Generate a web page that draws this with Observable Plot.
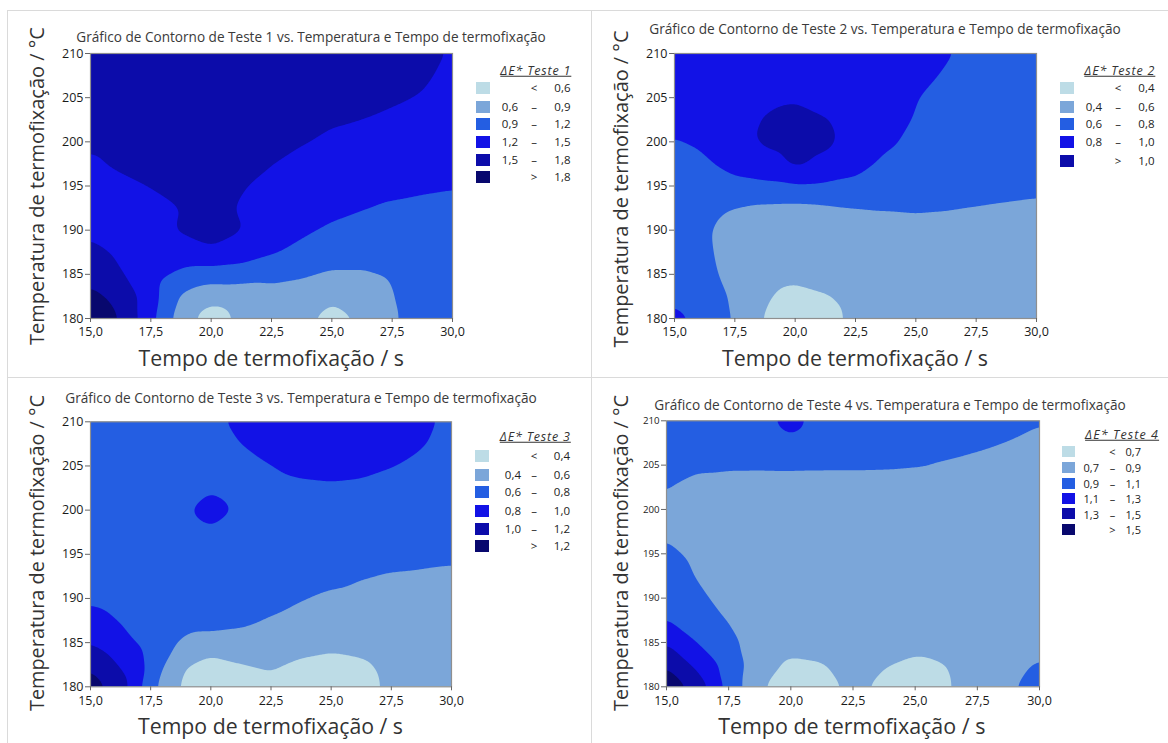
<!DOCTYPE html>
<html><head><meta charset="utf-8">
<script src="https://cdn.jsdelivr.net/npm/d3@7"></script>
<script src="https://cdn.jsdelivr.net/npm/@observablehq/plot@0.6"></script>
<style>
body{margin:0;background:#fff;}
#root{position:relative;width:1168px;height:743px;overflow:hidden;background:#fff;font-family:"Open Sans",sans-serif;}
.abs{position:absolute;white-space:nowrap;line-height:1;}
.sep{position:absolute;background:#dadada;}
.plotbox{position:absolute;}
</style></head><body><div id="root"></div>
<script>
// ---- data ----
const xs = [15,16.25,17.5,18.75,20,21.25,22.5,23.75,25,26.25,27.5,28.75,30];
const ys = [210,207.5,205,202.5,200,197.5,195,192.5,190,187.5,185,182.5,180];
const xTicks = [15,17.5,20,22.5,25,27.5,30];
const yTicks = [180,185,190,195,200,205,210];
const palette = ["#bddce6","#7ba6d9","#245ee2","#1212e6","#0c0caa","#08086e"];

const thr1 = [0.6,0.9,1.2,1.5,1.8];
const thr2 = [0.4,0.6,0.8,1.0];
const thr3 = [0.4,0.6,0.8,1.0,1.2];
const thr4 = [0.7,0.9,1.1,1.3,1.5];

const teste1 = [
 [1.65,1.66,1.67,1.67,1.67,1.66,1.65,1.64,1.62,1.6,1.58,1.56,1.48],
 [1.66,1.67,1.68,1.68,1.68,1.67,1.65,1.63,1.6,1.58,1.56,1.53,1.45],
 [1.62,1.65,1.67,1.68,1.68,1.66,1.63,1.6,1.57,1.55,1.53,1.49,1.42],
 [1.58,1.62,1.65,1.67,1.67,1.64,1.6,1.56,1.53,1.505,1.46,1.42,1.38],
 [1.54,1.58,1.62,1.65,1.66,1.62,1.57,1.52,1.45,1.4,1.36,1.33,1.3],
 [1.46,1.55,1.6,1.63,1.65,1.6,1.51,1.42,1.37,1.33,1.3,1.28,1.26],
 [1.38,1.43,1.51,1.58,1.62,1.52,1.42,1.36,1.32,1.28,1.26,1.24,1.22],
 [1.36,1.38,1.42,1.5,1.6,1.47,1.38,1.32,1.28,1.22,1.17,1.14,1.12],
 [1.42,1.38,1.4,1.52,1.58,1.51,1.36,1.25,1.15,1.08,1.04,1.02,1.0],
 [1.6,1.45,1.38,1.4,1.47,1.39,1.23,1.12,1.05,1.0,0.97,0.96,0.95],
 [1.72,1.52,1.32,1.12,1.05,1.02,0.98,0.93,0.86,0.87,0.93,0.95,0.96],
 [1.86,1.74,1.33,0.87,0.7,0.74,0.8,0.78,0.66,0.72,0.9,0.97,1.0],
 [1.98,1.8,1.28,0.74,0.45,0.66,0.74,0.68,0.48,0.64,0.88,0.98,1.0]
];
const teste2 = [
 [0.88,0.9,0.92,0.93,0.94,0.93,0.91,0.88,0.85,0.81,0.77,0.74,0.72],
 [0.88,0.9,0.93,0.95,0.96,0.95,0.92,0.88,0.83,0.79,0.75,0.73,0.71],
 [0.87,0.9,0.93,0.96,0.98,0.93,0.92,0.86,0.805,0.76,0.73,0.71,0.7],
 [0.85,0.88,0.92,1.01,1.06,1.01,0.93,0.86,0.79,0.75,0.72,0.7,0.69],
 [0.79,0.83,0.89,1.04,1.08,1.04,0.92,0.83,0.76,0.72,0.7,0.69,0.68],
 [0.72,0.78,0.86,0.9,1.04,0.95,0.87,0.76,0.72,0.7,0.68,0.67,0.66],
 [0.7,0.72,0.75,0.77,0.78,0.77,0.75,0.71,0.69,0.67,0.66,0.64,0.63],
 [0.68,0.65,0.595,0.56,0.55,0.57,0.595,0.61,0.62,0.61,0.595,0.585,0.575],
 [0.68,0.62,0.54,0.5,0.49,0.5,0.52,0.53,0.54,0.54,0.54,0.54,0.54],
 [0.7,0.63,0.53,0.48,0.46,0.47,0.49,0.51,0.52,0.53,0.53,0.53,0.53],
 [0.72,0.65,0.54,0.47,0.45,0.46,0.48,0.5,0.51,0.52,0.52,0.52,0.52],
 [0.77,0.7,0.57,0.42,0.34,0.39,0.45,0.48,0.5,0.51,0.51,0.51,0.51],
 [0.84,0.76,0.58,0.38,0.3,0.34,0.44,0.47,0.49,0.5,0.5,0.5,0.5]
];
const teste3 = [
 [0.68,0.7,0.72,0.74,0.77,0.83,0.87,0.9,0.91,0.9,0.87,0.83,0.77],
 [0.68,0.7,0.71,0.73,0.76,0.8,0.85,0.88,0.89,0.88,0.85,0.81,0.76],
 [0.67,0.69,0.7,0.72,0.74,0.76,0.8,0.84,0.85,0.84,0.805,0.77,0.74],
 [0.66,0.68,0.7,0.75,0.77,0.67,0.75,0.77,0.78,0.77,0.75,0.73,0.71],
 [0.66,0.68,0.7,0.75,0.91,0.76,0.72,0.72,0.72,0.71,0.7,0.69,0.68],
 [0.66,0.67,0.69,0.65,0.76,0.73,0.7,0.69,0.68,0.67,0.66,0.65,0.65],
 [0.67,0.67,0.68,0.69,0.7,0.69,0.68,0.67,0.66,0.65,0.64,0.63,0.62],
 [0.69,0.68,0.68,0.68,0.68,0.67,0.66,0.65,0.63,0.605,0.59,0.585,0.58],
 [0.77,0.73,0.7,0.68,0.66,0.65,0.63,0.605,0.58,0.57,0.565,0.56,0.56],
 [0.87,0.79,0.72,0.68,0.7,0.66,0.595,0.57,0.55,0.54,0.54,0.54,0.54],
 [0.99,0.86,0.74,0.58,0.5,0.49,0.49,0.47,0.45,0.47,0.5,0.52,0.53],
 [1.17,0.98,0.75,0.42,0.34,0.395,0.42,0.37,0.34,0.37,0.45,0.49,0.5],
 [1.3,1.1,0.66,0.38,0.3,0.33,0.36,0.32,0.29,0.33,0.44,0.48,0.49]
];
const teste4 = [
 [0.96,0.98,1.0,1.04,1.16,1.03,1.0,0.98,0.97,0.96,0.95,0.93,0.91],
 [0.96,0.98,0.99,0.99,1.065,1.0,0.98,0.96,0.95,0.94,0.92,0.898,0.87],
 [0.95,0.94,0.94,0.94,0.945,0.94,0.94,0.935,0.92,0.89,0.87,0.85,0.84],
 [0.91,0.83,0.79,0.78,0.78,0.78,0.78,0.78,0.78,0.79,0.8,0.8,0.8],
 [0.87,0.82,0.79,0.78,0.78,0.78,0.78,0.78,0.78,0.78,0.79,0.79,0.79],
 [0.88,0.83,0.8,0.78,0.78,0.78,0.78,0.78,0.78,0.78,0.78,0.78,0.78],
 [0.93,0.87,0.82,0.79,0.78,0.78,0.78,0.78,0.78,0.78,0.78,0.78,0.78],
 [0.97,0.89,0.83,0.8,0.78,0.78,0.78,0.78,0.78,0.78,0.78,0.78,0.78],
 [1.02,0.93,0.85,0.8,0.78,0.78,0.78,0.78,0.78,0.78,0.78,0.78,0.78],
 [1.1,0.99,0.89,0.81,0.78,0.78,0.78,0.78,0.78,0.78,0.78,0.78,0.78],
 [1.29,1.09,0.96,0.8,0.76,0.77,0.78,0.77,0.76,0.77,0.78,0.8,0.83],
 [1.49,1.24,1.04,0.78,0.67,0.69,0.76,0.71,0.66,0.7,0.78,0.85,0.92],
 [1.62,1.44,1.04,0.72,0.6,0.63,0.74,0.66,0.6,0.68,0.8,0.88,0.96]
];

const xLabel = "Tempo de termofixação / s";
const yLabel = "Temperatura de termofixação / °C";

// ---- layout ----
const FONT = "'Open Sans', sans-serif";
const panels = [
 {name:"Teste 1", grid:teste1, thr:thr1, box:[0,0,584,377], frame:{l:90,r:452,t:53,b:318}, yFont:12.5,
  title:{x1:76,x2:546,cy:37}, xl:{x1:138.5,x2:404,cy:358}, yl:{cx:37,y1:27,y2:345},
  lg:{titleRight:570.5,titleCy:71,titleW:71,swX:476,swW:14,swH:12,rows:[88.3,106.7,124.3,142,160,177.3],aR:518,mC:534,bR:570.5,font:11.5}},
 {name:"Teste 2", grid:teste2, thr:thr2, box:[584,0,584,377], frame:{l:674,r:1036,t:53,b:318}, yFont:12.5,
  title:{x1:649,x2:1121,cy:29.3}, xl:{x1:722,x2:988,cy:358}, yl:{cx:621,y1:30,y2:347},
  lg:{titleRight:1154.5,titleCy:71,titleW:71,swX:1060,swW:14,swH:12,rows:[88.3,106.7,124.3,142.3,161],aR:1102,mC:1118,bR:1154.5,font:11.5}},
 {name:"Teste 3", grid:teste3, thr:thr3, box:[0,378,584,365], frame:{l:90,r:451,t:421.3,b:686.3}, yFont:12.5,
  title:{x1:65,x2:537,cy:398}, xl:{x1:138,x2:403,cy:726.3}, yl:{cx:37,y1:394.7,y2:711},
  lg:{titleRight:570,titleCy:437.2,titleW:71,swX:475,swW:14,swH:12,rows:[456.3,474.7,492.3,510.7,529,546.3],aR:521,mC:534,bR:570,font:11.5}},
 {name:"Teste 4", grid:teste4, thr:thr4, box:[584,378,584,365], frame:{l:666,r:1039,t:420.3,b:686.3}, yFont:9.7,
  title:{x1:654,x2:1126,cy:404.7}, xl:{x1:718,x2:985.5,cy:726}, yl:{cx:621,y1:394.7,y2:711},
  lg:{titleRight:1158,titleCy:434.5,titleW:74,swX:1062,swW:13,swH:11,rows:[451,467,483,498,513.7,529],aR:1099,mC:1112.5,bR:1141,font:11}}
];

const root = document.getElementById("root");
const ctx = document.createElement("canvas").getContext("2d");
function measure(text, size, style="normal", weight="400") {
  ctx.font = `${style} ${weight} ${size}px ${FONT}`;
  return ctx.measureText(text).width;
}
function fitSize(text, target, style="normal", weight="400") {
  return 100 * target / measure(text, 100, style, weight);
}
function addText(text, x, y, opts={}) {
  const d = document.createElement("div");
  d.className = "abs";
  d.textContent = text;
  d.style.left = x + "px";
  d.style.top = y + "px";
  d.style.fontSize = (opts.size || 13) + "px";
  d.style.color = opts.color || "#222";
  if (opts.italic) d.style.fontStyle = "italic";
  if (opts.underline) d.style.textDecoration = "underline";
  if (opts.spacing) d.style.letterSpacing = opts.spacing + "px";
  d.style.transform = opts.transform || "translate(-50%,-50%)";
  root.appendChild(d);
  return d;
}
const fmt = d => d.toFixed(1).replace(".", ",");

for (const p of panels) {
  const [bx, by, bw, bh] = p.box;
  const pts = [];
  ys.forEach((y, i) => xs.forEach((x, j) => pts.push({x, y, v: p.grid[i][j]})));
  const plot = Plot.plot({
    width: bw, height: bh,
    marginLeft: p.frame.l - bx, marginRight: bx + bw - p.frame.r,
    marginTop: p.frame.t - by, marginBottom: by + bh - p.frame.b,
    x: {domain: [15, 30]},
    y: {domain: [180, 210]},
    color: {type: "threshold", domain: p.thr, range: palette.slice(0, p.thr.length + 1)},
    style: {background: "transparent", fontFamily: FONT, color: "#1a1a1a", overflow: "visible"},
    marks: [
      Plot.frame({fill: palette[0], stroke: "none"}),
      Plot.contour(pts, {x: "x", y: "y", fill: "v", thresholds: [-1, ...p.thr],
        interpolate: "barycentric", blur: 5, pixelSize: 1, stroke: "none", clip: true}),
      Plot.frame({stroke: "#8f8f8f", strokeWidth: 1.2}),
      Plot.axisX({ticks: xTicks, tickFormat: fmt, tickSize: 4, tickPadding: 5, fontSize: 12.5,
        label: null, stroke: "#666", fill: "#1a1a1a"}),
      Plot.axisY({ticks: yTicks, tickFormat: d => String(d), tickSize: 5, tickPadding: 2, fontSize: p.yFont,
        label: null, stroke: "#666", fill: "#1a1a1a"})
    ]
  });
  const wrap = document.createElement("div");
  wrap.className = "plotbox";
  wrap.style.left = bx + "px"; wrap.style.top = by + "px";
  wrap.style.width = bw + "px"; wrap.style.height = bh + "px";
  wrap.appendChild(plot);
  root.appendChild(wrap);

  // title
  const title = `Gráfico de Contorno de ${p.name} vs. Temperatura e Tempo de termofixação`;
  addText(title, (p.title.x1 + p.title.x2) / 2, p.title.cy,
    {size: fitSize(title, p.title.x2 - p.title.x1), color: "#3a3a3a"});
  // axis labels
  addText(xLabel, (p.xl.x1 + p.xl.x2) / 2, p.xl.cy, {size: fitSize(xLabel, p.xl.x2 - p.xl.x1), color: "#333"});
  addText(yLabel, p.yl.cx, (p.yl.y1 + p.yl.y2) / 2,
    {size: fitSize(yLabel, p.yl.y2 - p.yl.y1), color: "#333", transform: "translate(-50%,-50%) rotate(-90deg)"});
  // legend
  const lg = p.lg;
  const lt = `ΔE* ${p.name}`;
  const ltSize = 12.5;
  const ltSpacing = Math.max(0, (lg.titleW - measure(lt, ltSize, "italic")) / lt.length);
  addText(lt, lg.titleRight + ltSpacing, lg.titleCy, {size: ltSize, spacing: ltSpacing, italic: true, underline: true,
    color: "#333", transform: "translate(-100%,-50%)"});
  const rows = [{a: "", m: "<", b: fmt(p.thr[0])}];
  for (let i = 0; i < p.thr.length - 1; i++) rows.push({a: fmt(p.thr[i]), m: "–", b: fmt(p.thr[i + 1])});
  rows.push({a: "", m: ">", b: fmt(p.thr[p.thr.length - 1])});
  rows.forEach((r, i) => {
    const cy = lg.rows[i];
    const sw = document.createElement("div");
    sw.style.cssText = `position:absolute;left:${lg.swX}px;top:${cy - lg.swH / 2}px;width:${lg.swW}px;height:${lg.swH}px;background:${palette[i]};`;
    root.appendChild(sw);
    if (r.a) addText(r.a, lg.aR, cy, {size: lg.font, transform: "translate(-100%,-50%)", color: "#222"});
    addText(r.m, lg.mC, cy, {size: lg.font, color: "#222"});
    addText(r.b, lg.bR, cy, {size: lg.font, transform: "translate(-100%,-50%)", color: "#222"});
  });
}

// separator lines between the four panels
function sep(x, y, w, h) {
  const d = document.createElement("div");
  d.className = "sep";
  d.style.cssText += `left:${x}px;top:${y}px;width:${w}px;height:${h}px;`;
  root.appendChild(d);
}
sep(7, 10, 1161, 1);
sep(7, 10, 1, 733);
sep(591, 10, 1, 733);
sep(7, 377, 1161, 1);
</script></body></html>
